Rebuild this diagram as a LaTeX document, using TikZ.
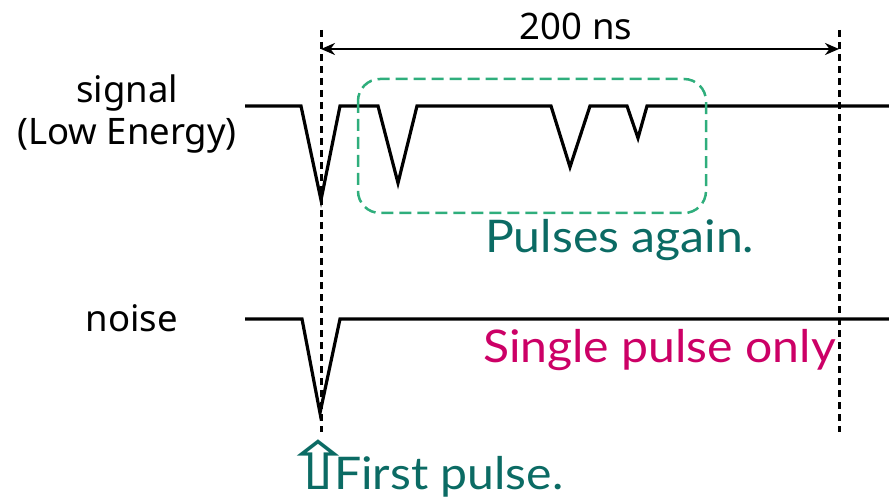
\documentclass[tikz,border=0pt]{standalone}
\usepackage{fontspec}
\usepackage{graphicx}
\setmainfont{Noto Sans}
\newfontfamily\lato[FakeStretch=1.07]{Lato}
\newfontfamily\arrowfont{DejaVu Sans}
\usetikzlibrary{arrows.meta}
\definecolor{tealtxt}{HTML}{0B6B64}
\definecolor{magtxt}{HTML}{CC0066}
\definecolor{boxgreen}{HTML}{2FAE7C}
\begin{document}
\begin{tikzpicture}[x=1pt,y=-1pt,
  wave/.style={line width=3.2pt,line join=miter,black},
  guide/.style={line width=3pt,dash pattern=on 7pt off 5pt,black},
  blacklbl/.style={font=\fontsize{36.5}{40}\selectfont,inner sep=0pt,text=black},
  colorlbl/.style={font=\lato\fontsize{45}{48}\selectfont,inner sep=0pt}]
\useasboundingbox (0,0) rectangle (889,497);
% waveforms
\draw[wave] (245,106) -- (301,106) -- (321,200) -- (340,106) -- (378,106) -- (398,183) -- (417,106)
  -- (551,106) -- (570,167) -- (590,106) -- (627,106) -- (638,138) -- (647,106) -- (889,106);
\draw[wave] (245,319) -- (302,319) -- (320,413) -- (340,319) -- (889,319);
% guides
\coordinate (g1t) at (321,30); \coordinate (g1b) at (321,432);
\coordinate (g2t) at (839,30); \coordinate (g2b) at (839,432);
\draw[guide] (g1t) -- (g1b);
\draw[guide] (g2t) -- (g2b);
% dimension arrow
\coordinate (a1) at (321,49); \coordinate (a2) at (839,49);
\draw[line width=2.5pt,{Stealth[length=14pt,width=12pt]}-{Stealth[length=14pt,width=12pt]}] (a1) -- (a2);
% dashed box
\draw[boxgreen,line width=2.5pt,dash pattern=on 12pt off 6pt,rounded corners=22pt] (358,79) rectangle (706,213);
% labels
\node[blacklbl,anchor=base] (t200) at (576,40) {200 ns};
\node[blacklbl,anchor=base] (sig) at (127,103) {signal};
\node[blacklbl,anchor=base] (low) at (127,145) {(Low Energy)};
\node[blacklbl,anchor=base] (noi) at (132,331) {noise};
\node[colorlbl,text=tealtxt,anchor=base west] (again) at (485,252) {Pulses again.};
\node[colorlbl,text=magtxt,anchor=base west] (single) at (483,362) {Single pulse only};
\node[colorlbl,text=tealtxt,anchor=base west] (first) at (305,489) {\hspace*{-23pt}\scalebox{1.3}[1]{\arrowfont\fontsize{66}{70}\selectfont ⇧}\hspace*{-20pt}First pulse.};
\end{tikzpicture}
\end{document}
